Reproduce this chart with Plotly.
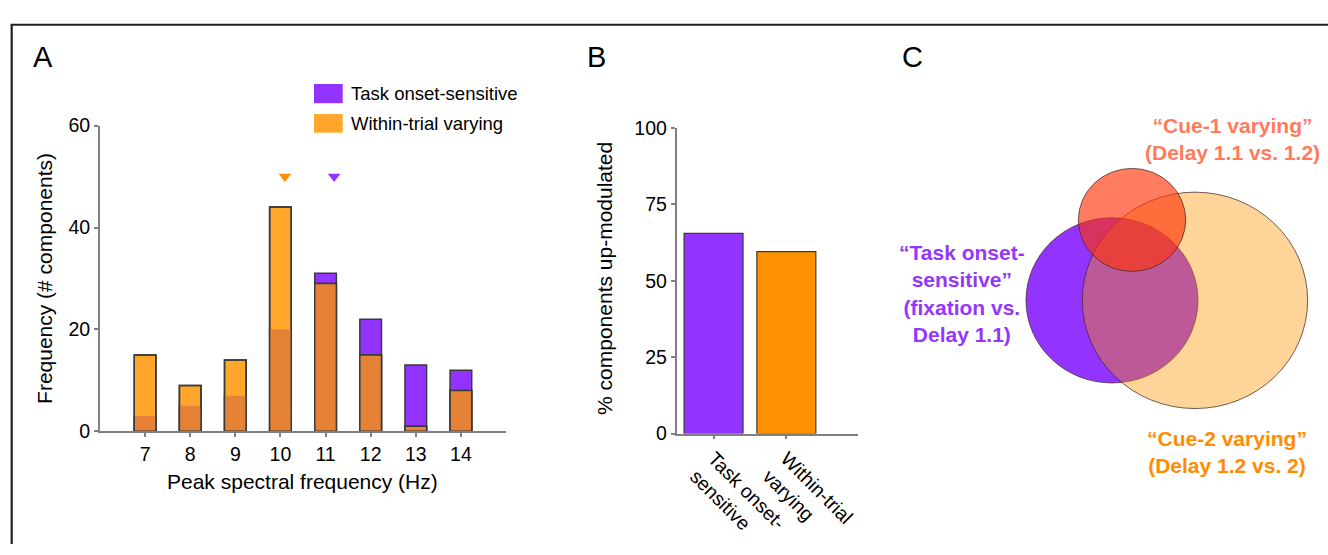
import plotly.graph_objects as go

W, H = 1328, 555

# ---- Panel A: peak spectral frequency histogram ----
freq_hz = [7, 8, 9, 10, 11, 12, 13, 14]
task_onset_counts = [3, 5, 7, 20, 31, 22, 13, 12]
within_trial_counts = [15, 9, 14, 44, 29, 15, 1, 8]
# mean peak frequency markers: [within-trial, task onset]
mean_peak_hz = [10.10, 11.19]
mean_marker_level = [50, 50]

# ---- Panel B: share of up-modulated components ----
group_labels = ["Task onset-<br>sensitive", "Within-trial<br>varying"]
pct_up_modulated = [65.5, 59.5]

# ---- Panel C: Venn diagram (units relative to the task-onset set radius) ----
venn_sets = ["Task onset-sensitive", "Cue-2 varying", "Cue-1 varying"]
venn_cx = [0.0, 0.965, 0.233]
venn_cy = [0.0, 0.0, 0.974]
venn_r = [1.0, 1.31, 0.624]

PURPLE = "#9333FF"
ORANGE_LIGHT = "#FFA62B"
ORANGE_DARK = "#E58236"
ORANGE_B = "#FF9100"
OUTLINE = "#3a3a3a"
AXIS = "#808080"
FONT = "Liberation Sans, Arial, Helvetica, sans-serif"


def fx(px):
    return px / W


def fy(py):
    return 1 - py / H


overlap = [min(a, b) for a, b in zip(task_onset_counts, within_trial_counts)]

fig = go.Figure()

bar_kw = dict(xaxis="x", yaxis="y", width=0.48, showlegend=False, hoverinfo="skip")
fig.add_trace(go.Bar(x=freq_hz, y=task_onset_counts, marker=dict(color=PURPLE, line=dict(color=OUTLINE, width=1.5)), **bar_kw))
fig.add_trace(go.Bar(x=freq_hz, y=within_trial_counts, marker=dict(color=ORANGE_LIGHT, line=dict(color=OUTLINE, width=1.5)), **bar_kw))
fig.add_trace(go.Bar(x=freq_hz, y=overlap, marker=dict(color=ORANGE_DARK, line=dict(width=0)), **bar_kw))
fig.add_trace(go.Bar(x=freq_hz, y=within_trial_counts, marker=dict(color="rgba(0,0,0,0)", line=dict(color=OUTLINE, width=1.5)), **bar_kw))

fig.add_trace(go.Scatter(
    x=mean_peak_hz, y=mean_marker_level, mode="markers", xaxis="x", yaxis="y",
    marker=dict(symbol="triangle-down", size=11, color=["#FF8C00", PURPLE], line=dict(width=0)),
    showlegend=False, hoverinfo="skip"))

# Panel B bars
fig.add_trace(go.Bar(
    x=list(range(len(group_labels))), y=pct_up_modulated, xaxis="x2", yaxis="y2", width=0.81,
    marker=dict(color=[PURPLE, ORANGE_B], line=dict(color=OUTLINE, width=1.2)),
    showlegend=False, hoverinfo="skip"))

# Panel C: invisible trace to anchor the venn axes
fig.add_trace(go.Scatter(x=[0], y=[0], xaxis="x3", yaxis="y3", mode="markers",
                         marker=dict(opacity=0), showlegend=False, hoverinfo="skip"))

axis_common = dict(showline=True, linecolor=AXIS, linewidth=1.8, ticks="outside", ticklen=4,
                   tickcolor=AXIS, tickwidth=1.5, showgrid=False, zeroline=False,
                   tickfont=dict(size=19.5, color="black", family=FONT))

# venn axes scale: 86 px per unit in both directions, centred on the task-onset circle
S = 86.0
cx_px, cy_px = 1112.0, 301.3
x3_range = [(880 - cx_px) / S, (W - cx_px) / S]
y3_range = [(cy_px - H) / S, cy_px / S]

fig.update_layout(
    width=W, height=H, margin=dict(l=0, r=0, t=0, b=0),
    paper_bgcolor="white", plot_bgcolor="white",
    barmode="overlay", font=dict(family=FONT, color="black"),
    xaxis=dict(domain=[fx(100), fx(506)], range=[6, 15], tickvals=freq_hz, anchor="y", **axis_common),
    yaxis=dict(domain=[fy(437.7), fy(119.3)], range=[0, 60], tickvals=[0, 20, 40, 60], anchor="x", **axis_common),
    xaxis2=dict(domain=[fx(676.7), fx(857.7)], range=[-0.506, 1.98], tickvals=list(range(len(group_labels))),
                ticktext=group_labels, tickangle=45, anchor="y2", **axis_common),
    yaxis2=dict(domain=[fy(440), fy(121.7)], range=[0, 100], tickvals=[0, 25, 50, 75, 100], anchor="x2", **axis_common),
    xaxis3=dict(domain=[fx(880), 1.0], range=x3_range, visible=False, anchor="y3"),
    yaxis3=dict(domain=[0, 1], range=y3_range, visible=False, anchor="x3"),
)

shapes = []
# figure frame (left and top edges)
shapes.append(dict(type="line", xref="paper", yref="paper", x0=fx(11.7), x1=fx(11.7), y0=0, y1=fy(14.3),
                   line=dict(color="#231F20", width=2.2)))
shapes.append(dict(type="line", xref="paper", yref="paper", x0=fx(10.6), x1=1.0, y0=fy(14.3), y1=fy(14.3),
                   line=dict(color="#231F20", width=2.2)))
# legend swatches
shapes.append(dict(type="rect", xref="paper", yref="paper", x0=fx(314), x1=fx(342.7), y0=fy(96), y1=fy(76),
                   fillcolor=PURPLE, line=dict(width=0)))
shapes.append(dict(type="rect", xref="paper", yref="paper", x0=fx(314), x1=fx(342.7), y0=fy(126.7), y1=fy(107.3),
                   fillcolor=ORANGE_LIGHT, line=dict(width=0)))

# venn circles: task onset, cue-2, cue-1
venn_fill = [PURPLE, "rgba(255,148,0,0.40)", "rgba(255,50,8,0.64)"]
for cx, cy, r, fill in zip(venn_cx, venn_cy, venn_r, venn_fill):
    shapes.append(dict(type="circle", xref="x3", yref="y3", x0=cx - r, x1=cx + r, y0=cy - r, y1=cy + r,
                       fillcolor=fill, line=dict(color="rgba(70,40,40,0.75)", width=1)))

annotations = []


def txt(text, x, y, size, color="black", xanchor="center", yanchor="middle", angle=0, bold=False, align="center"):
    annotations.append(dict(text=f"<b>{text}</b>" if bold else text, x=fx(x), y=fy(y), xref="paper", yref="paper",
                            showarrow=False, xanchor=xanchor, yanchor=yanchor, textangle=angle, align=align,
                            font=dict(size=size, color=color, family=FONT)))


# panel letters
txt("A", 30.5, 48, 29, xanchor="left")
txt("B", 585, 48, 29, xanchor="left")
txt("C", 900, 48, 29, xanchor="left")

# axis titles
txt("Peak spectral frequency (Hz)", 302.5, 490, 21)
txt("Frequency (# components)", 45, 279, 21, angle=-90)
txt("% components up-modulated", 605, 279, 21, angle=-90)

# legend labels
txt("Task onset-sensitive", 349, 86, 18.5, xanchor="left")
txt("Within-trial varying", 349, 117, 18.5, xanchor="left")

# venn labels
txt("\u201cCue-1 varying\u201d<br>(Delay 1.1 vs. 1.2)", 1232, 133.3, 21, color="#FF7B5C", bold=True)
txt("\u201cTask onset-<br>sensitive\u201d<br>(fixation vs.<br>Delay 1.1)", 961.7, 293.8, 21, color="#9436FF", bold=True)
txt("\u201cCue-2 varying\u201d<br>(Delay 1.2 vs. 2)", 1227, 458.9, 21, color="#FF8C00", bold=True)

fig.update_layout(shapes=shapes, annotations=annotations)

fig.write_html("out.html")
